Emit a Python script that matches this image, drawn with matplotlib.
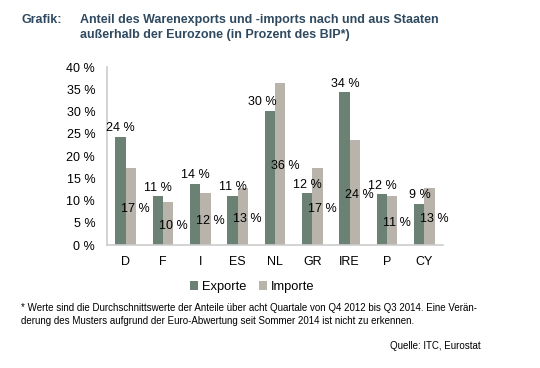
import numpy as np
import matplotlib.pyplot as plt

plt.rcParams['font.family'] = ['Liberation Sans', 'DejaVu Sans']

laender = ['D', 'F', 'I', 'ES', 'NL', 'GR', 'IRE', 'P', 'CY']
exporte = [24.3, 10.9, 13.8, 11.0, 30.2, 11.6, 34.3, 11.4, 9.2]
importe = [17.3, 9.6, 11.6, 12.7, 36.3, 17.3, 23.6, 10.9, 12.8]
export_lbl = ['24 %', '11 %', '14 %', '11 %', '30 %', '12 %', '34 %', '12 %', '9 %']
import_lbl = ['17 %', '10 %', '12 %', '13 %', '36 %', '17 %', '24 %', '11 %', '13 %']

c_exp = '#6a8174'
c_imp = '#b8b4ac'
c_title = '#2f4a60'

fig = plt.figure(figsize=(5.4, 3.68), dpi=100)
ax = fig.add_axes([107/540, 1-245/368, (443-107)/540, (245-67)/368])

x = np.arange(len(laender))
w = 0.28
ax.bar(x - w/2, exporte, w, color=c_exp, label='Exporte')
ax.bar(x + w/2, importe, w, color=c_imp, label='Importe')

for i in range(len(laender)):
    dx = -0.2 if laender[i] == 'NL' else 0.0  # Excel schiebt das Label nach links
    ax.text(x[i] - w/2 + 0.01 + dx, exporte[i] + 0.6, export_lbl[i], ha='center', va='bottom', fontsize=9)
    ax.text(x[i] + w/2 + 0.13, importe[i]/2 - 0.5, import_lbl[i], ha='center', va='center', fontsize=9)

ax.set_xlim(-0.5, len(laender) - 0.5)
ax.set_ylim(0, 40)
ax.set_yticks(np.arange(0, 41, 5))
ax.set_yticklabels(['%d %%' % v for v in range(0, 41, 5)], fontsize=9)
ax.set_xticks(x)
ax.set_xticklabels(laender, fontsize=9)
ax.tick_params(length=0, pad=8)
ax.tick_params(axis='y', pad=8.5)
for s in ['top', 'right']:
    ax.spines[s].set_visible(False)
for s in ['left', 'bottom']:
    ax.spines[s].set_color('#cccccc')
    ax.spines[s].set_linewidth(1.2)

fig.legend(loc='center', bbox_to_anchor=(252/540, 1-287/368), ncol=2, frameon=False,
           fontsize=9.3, handlelength=0.6, handleheight=0.6, handletextpad=0.3, columnspacing=1.0)

fig.text(22/540, 1-20/368, 'Grafik:', fontsize=9, fontweight='bold', color=c_title, va='center')
fig.text(80/540, 1-20/368, 'Anteil des Warenexports und -imports nach und aus Staaten',
         fontsize=9, fontweight='bold', color=c_title, va='center')
fig.text(80/540, 1-35/368, 'außerhalb der Eurozone (in Prozent des BIP*)',
         fontsize=9, fontweight='bold', color=c_title, va='center')

fig.text(21/540, 1-308/368, '* Werte sind die Durchschnittswerte der Anteile über acht Quartale von Q4 2012 bis Q3 2014. Eine Verän-',
         fontsize=7, va='center')
fig.text(21/540, 1-321/368, 'derung des Musters aufgrund der Euro-Abwertung seit Sommer 2014 ist nicht zu erkennen.',
         fontsize=7, va='center')
fig.text(481/540, 1-346/368, 'Quelle: ITC, Eurostat', fontsize=7, ha='right', va='center')

fig.savefig('out.png', dpi=100)
